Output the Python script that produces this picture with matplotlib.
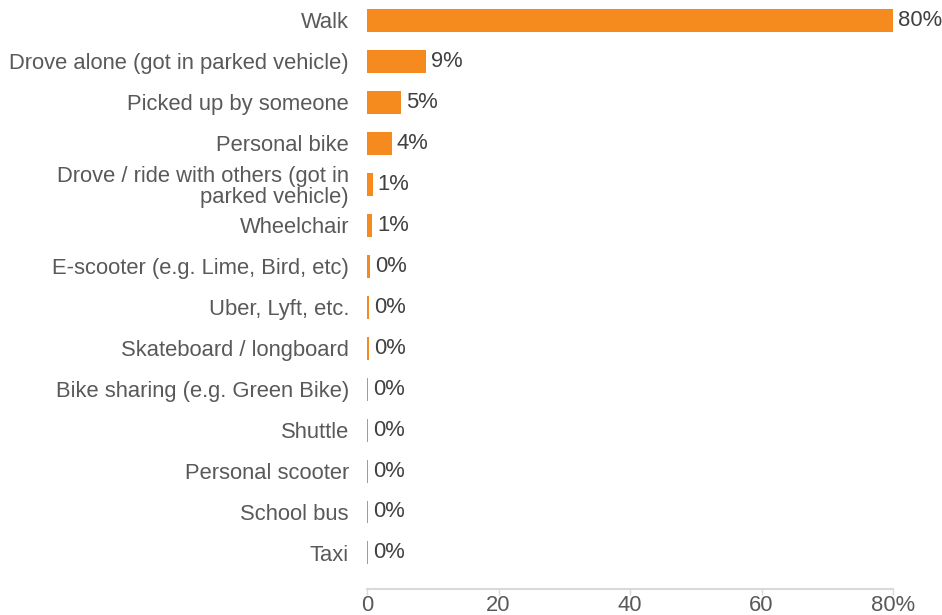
import numpy as np
import matplotlib.pyplot as plt

plt.rcParams['font.family'] = ['Liberation Sans', 'DejaVu Sans']

modes = [
    'Walk',
    'Drove alone (got in parked vehicle)',
    'Picked up by someone',
    'Personal bike',
    'Drove / ride with others (got in\nparked vehicle)',
    'Wheelchair',
    'E-scooter (e.g. Lime, Bird, etc)',
    'Uber, Lyft, etc.',
    'Skateboard / longboard',
    'Bike sharing (e.g. Green Bike)',
    'Shuttle',
    'Personal scooter',
    'School bus',
    'Taxi',
]
shares = [80.0, 9.0, 5.2, 3.8, 0.87, 0.76, 0.42, 0.3, 0.3, 0.15, 0.12, 0.12, 0.12, 0.12]

bar_color = '#F58B1F'
text_color = '#404040'
label_color = '#595959'
fs = 15.8

fig = plt.figure(figsize=(9.42, 6.15), dpi=100)
ax = fig.add_axes([367 / 942, 1 - 589 / 615, 526 / 942, 589 / 615])

y = np.arange(len(modes))
ax.barh(y, shares, height=0.56, color=bar_color)

# percentage labels just right of each bar
for yi, v in zip(y, shares):
    ax.annotate(f'{v:.0f}%', (v, yi), xytext=(5, 0), textcoords='offset pixels',
                va='center', ha='left', fontsize=fs, color=text_color)

ax.set_yticks(y)
ax.set_yticklabels(modes, fontsize=fs, color=label_color, linespacing=1.0)
ax.tick_params(axis='y', length=0, pad=13)
ax.set_ylim(13.88, -0.5)

ax.set_xlim(0, 80)
ax.set_xticks([0, 20, 40, 60, 80])
ax.set_xticklabels(['0', '20', '40', '60', '80%'], fontsize=fs, color=label_color)
ax.tick_params(axis='x', length=4, width=1, color='#d9d9d9', pad=0)

for side in ['left', 'right', 'top']:
    ax.spines[side].set_visible(False)
ax.spines['bottom'].set_color('#d9d9d9')
ax.spines['bottom'].set_linewidth(1.5)

fig.savefig('out.png', dpi=100)
